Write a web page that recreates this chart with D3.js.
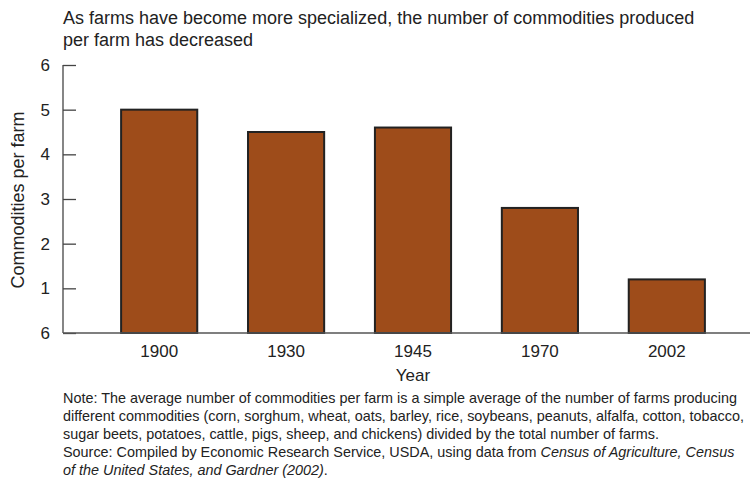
<!DOCTYPE html>
<html>
<head>
<meta charset="utf-8">
<script src="https://cdnjs.cloudflare.com/ajax/libs/d3/7.8.5/d3.min.js"></script>
<style>
  body { margin: 0; background: #fff; }
  svg { font-family: "Liberation Sans", Arial, sans-serif; }
</style>
</head>
<body>
<svg width="750" height="479"></svg>
<script>
var years = ["1900", "1930", "1945", "1970", "2002"];
var commodities = [5.0, 4.5, 4.6, 2.8, 1.2];
var yTicks = [0, 1, 2, 3, 4, 5, 6];
var yTickLabels = ["6", "1", "2", "3", "4", "5", "6"];
var titleLines = [
    "As farms have become more specialized, the number of commodities produced",
    "per farm has decreased"
];
var noteLines = [
    [{t: "Note: The average number of commodities per farm is a simple average of the number of farms producing"}],
    [{t: "different commodities (corn, sorghum, wheat, oats, barley, rice, soybeans, peanuts, alfalfa, cotton, tobacco,"}],
    [{t: "sugar beets, potatoes, cattle, pigs, sheep, and chickens) divided by the total number of farms."}],
    [{t: "Source: Compiled by Economic Research Service, USDA, using data from "}, {t: "Census of Agriculture, Census", i: true}],
    [{t: "of the United States, and Gardner (2002)", i: true}, {t: "."}]
];

var svg = d3.select("svg"),
    axisX = 63,
    plotTop = 65,
    plotBottom = 333,
    plotRight = 750;

var x = d3.scaleBand()
    .domain(years)
    .range([64, 762])
    .paddingInner(0.4)
    .paddingOuter(0.45);

var y = d3.scaleLinear()
    .domain([0, 6])
    .range([plotBottom, plotTop]);

var textColor = "#222";

// title
svg.append("g").selectAll("text")
    .data(titleLines)
    .enter().append("text")
    .attr("x", axisX)
    .attr("y", function(d, i) { return 24 + i * 22; })
    .attr("font-size", "18px")
    .attr("fill", textColor)
    .text(function(d) { return d; });

// bars
svg.append("g").selectAll("rect")
    .data(commodities)
    .enter().append("rect")
    .attr("x", function(d, i) { return x(years[i]); })
    .attr("y", function(d) { return y(d); })
    .attr("width", x.bandwidth())
    .attr("height", function(d) { return plotBottom - y(d); })
    .attr("fill", "#9e4c1a")
    .attr("stroke", "#222")
    .attr("stroke-width", 2);

// y axis
var yAxis = svg.append("g")
    .attr("transform", "translate(" + axisX + ",0)")
    .call(d3.axisRight(y)
        .tickValues(yTicks)
        .tickSize(13)
        .tickFormat(""));
yAxis.select(".domain").remove();
yAxis.selectAll(".tick line").attr("stroke", "#444").attr("stroke-width", 1.3);
yAxis.append("line")
    .attr("x1", 0).attr("x2", 0)
    .attr("y1", plotTop).attr("y2", plotBottom)
    .attr("stroke", "#444").attr("stroke-width", 1.3);

svg.append("g").selectAll("text")
    .data(yTicks)
    .enter().append("text")
    .attr("x", 50)
    .attr("y", function(d) { return y(d); })
    .attr("dy", "0.35em")
    .attr("text-anchor", "end")
    .attr("font-size", "17px")
    .attr("fill", textColor)
    .text(function(d, i) { return yTickLabels[i]; });

// x axis
var xAxis = svg.append("g")
    .attr("transform", "translate(0," + plotBottom + ")")
    .call(d3.axisBottom(x).tickSize(0).tickPadding(12));
xAxis.select(".domain").remove();
xAxis.append("line")
    .attr("x1", axisX).attr("x2", plotRight)
    .attr("stroke", "#555").attr("stroke-width", 1.5);
xAxis.selectAll(".tick text")
    .attr("font-size", "17px")
    .attr("font-family", "Liberation Sans, Arial, sans-serif")
    .attr("fill", textColor);

// axis titles
svg.append("text")
    .attr("x", 413)
    .attr("y", 381)
    .attr("text-anchor", "middle")
    .attr("font-size", "17px")
    .attr("fill", textColor)
    .text("Year");

svg.append("text")
    .attr("transform", "translate(24,200) rotate(-90)")
    .attr("text-anchor", "middle")
    .attr("font-size", "18px")
    .attr("fill", textColor)
    .text("Commodities per farm");

// note
var note = svg.append("g").selectAll("text")
    .data(noteLines)
    .enter().append("text")
    .attr("x", axisX)
    .attr("y", function(d, i) { return 403 + i * 18; })
    .attr("font-size", "14.4px")
    .attr("fill", textColor);
note.selectAll("tspan")
    .data(function(d) { return d; })
    .enter().append("tspan")
    .attr("font-style", function(d) { return d.i ? "italic" : "normal"; })
    .text(function(d) { return d.t; });
</script>
</body>
</html>
